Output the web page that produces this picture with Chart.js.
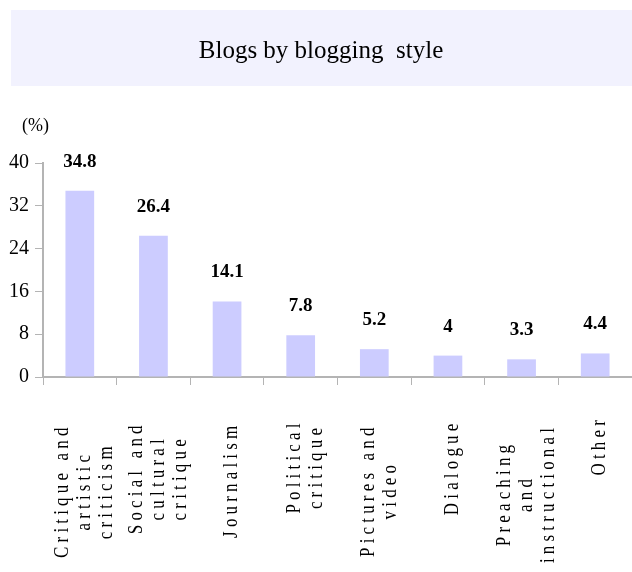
<!DOCTYPE html>
<html>
<head>
<meta charset="utf-8">
<title>Blogs by blogging style</title>
<script src="https://cdn.jsdelivr.net/npm/chart.js@4/dist/chart.umd.min.js"></script>
<style>
  html, body { margin: 0; padding: 0; background: #fff; }
  #wrap { width: 632px; height: 572px; }
</style>
</head>
<body>
<div id="wrap"><canvas id="blogChart" width="632" height="572"></canvas></div>
<script>
// ============================================
// Data
// ============================================

const CATEGORIES = [
  ['Critique and', 'artistic', 'criticism'],
  ['Social and', 'cultural', 'critique'],
  ['Journalism'],
  ['Political', 'critique'],
  ['Pictures and', 'video'],
  ['Dialogue'],
  ['Preaching', 'and', 'instructional'],
  ['Other'],
];

const SHARES = [34.8, 26.4, 14.1, 7.8, 5.2, 4, 3.3, 4.4];

const Y_MIN = 0;
const Y_MAX = 40;
const Y_STEP = 8;

const TITLE = 'Blogs by blogging  style';
const UNIT = '(%)';

// ============================================
// Styles
// ============================================

const BAR_COLOR = '#ccccff';
const AXIS_COLOR = '#b4b4b4';
const SERIF = '"Liberation Serif", "Times New Roman", serif';

/**
 * Title box and unit label above the plot
 */
const headerPlugin = {
  id: 'header',
  beforeDraw(chart) {
    const ctx = chart.ctx;
    ctx.save();
    ctx.fillStyle = '#f2f2fe';
    ctx.fillRect(11, 10, chart.width - 11, 76);
    ctx.fillStyle = '#000';
    ctx.font = '25px ' + SERIF;
    ctx.textAlign = 'center';
    ctx.textBaseline = 'alphabetic';
    ctx.fillText(TITLE, 321, 58);
    ctx.font = '18px ' + SERIF;
    ctx.textAlign = 'left';
    ctx.textBaseline = 'middle';
    ctx.fillText(UNIT, 22, 126);
    ctx.restore();
  },
};

/**
 * Bold value labels above each bar
 */
const valueLabels = {
  id: 'valueLabels',
  afterDatasetsDraw(chart) {
    const ctx = chart.ctx;
    const meta = chart.getDatasetMeta(0);
    ctx.save();
    ctx.fillStyle = '#000';
    ctx.font = 'bold 19px ' + SERIF;
    ctx.textAlign = 'center';
    ctx.textBaseline = 'middle';
    meta.data.forEach((bar, i) => {
      ctx.fillText(String(SHARES[i]), bar.x, bar.y - 29);
    });
    ctx.restore();
  },
};

/**
 * Vertical, letter-spaced category labels (lines centred in each block)
 */
const categoryLabels = {
  id: 'categoryLabels',
  afterDraw(chart) {
    const ctx = chart.ctx;
    const xs = chart.scales.x;
    const sx = 0.85;
    const lineGap = 22;
    ctx.save();
    ctx.fillStyle = '#000';
    ctx.font = '20px ' + SERIF;
    ctx.letterSpacing = '4.9px';
    ctx.textAlign = 'center';
    ctx.textBaseline = 'middle';
    CATEGORIES.forEach((lines, i) => {
      const cx = xs.getPixelForValue(i) + 5;
      const maxW = Math.max(...lines.map((l) => ctx.measureText(l).width)) * sx;
      const cy = xs.top + 33 + maxW * 0.6;
      lines.forEach((line, j) => {
        const x = cx + (j - (lines.length - 1) / 2) * lineGap;
        ctx.save();
        ctx.translate(x, cy);
        ctx.rotate(-Math.PI / 2);
        ctx.scale(sx, 1);
        ctx.fillText(line, 0, 0);
        ctx.restore();
      });
    });
    ctx.restore();
  },
};

// ============================================
// Chart
// ============================================

const ctx = document.getElementById('blogChart').getContext('2d');

new Chart(ctx, {
  type: 'bar',
  data: {
    labels: CATEGORIES.map((c) => c.join(' ')),
    datasets: [
      {
        data: SHARES,
        backgroundColor: BAR_COLOR,
        borderWidth: 0,
        barPercentage: 0.39,
        categoryPercentage: 1,
      },
    ],
  },
  options: {
    responsive: false,
    animation: false,
    layout: {
      padding: { top: 163, left: 0, right: 0, bottom: 0 },
    },
    plugins: {
      legend: { display: false },
      title: { display: false },
      tooltip: { enabled: false },
    },
    scales: {
      x: {
        offset: true,
        afterFit(scale) {
          scale.height = 195;
        },
        grid: {
          offset: true,
          drawOnChartArea: false,
          tickLength: 8,
          color: AXIS_COLOR,
          lineWidth: 1,
        },
        border: { color: AXIS_COLOR, width: 2 },
        ticks: { display: false },
      },
      y: {
        min: Y_MIN,
        max: Y_MAX,
        afterFit(scale) {
          scale.width = 43;
        },
        grid: {
          drawOnChartArea: false,
          tickLength: 8,
          color: AXIS_COLOR,
          lineWidth: 1,
        },
        border: { color: AXIS_COLOR, width: 2 },
        ticks: {
          stepSize: Y_STEP,
          color: '#000',
          padding: 6,
          font: { family: SERIF, size: 20 },
        },
      },
    },
  },
  plugins: [headerPlugin, valueLabels, categoryLabels],
});
</script>
</body>
</html>
